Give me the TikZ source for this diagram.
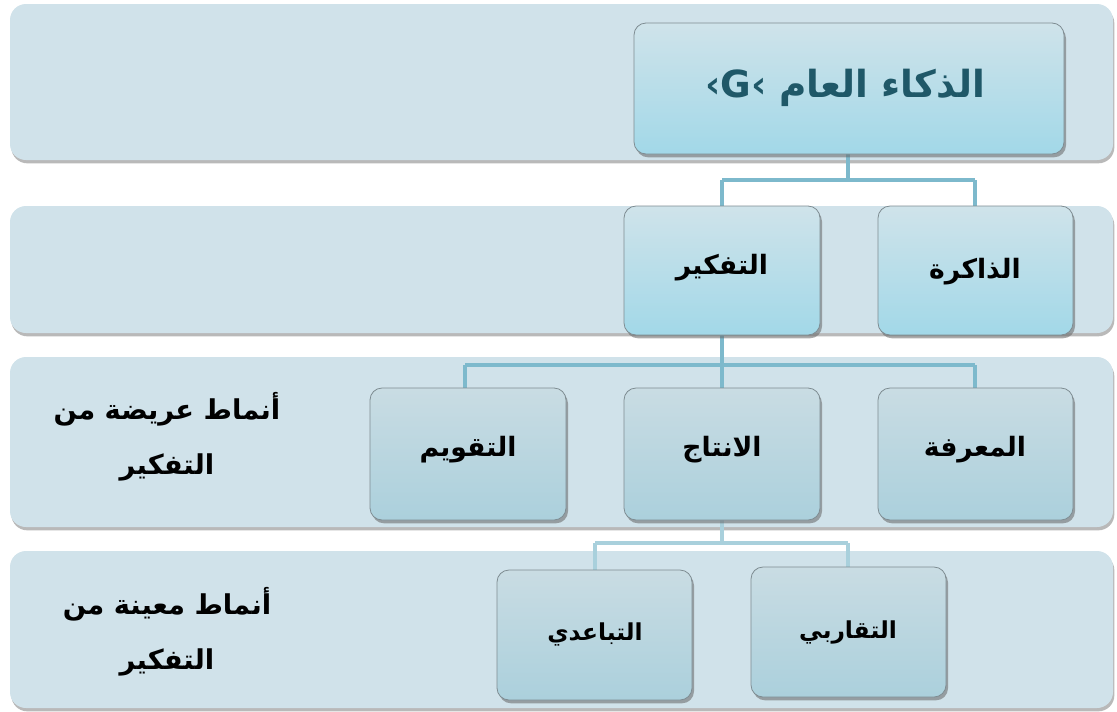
\documentclass[tikz,border=0pt]{standalone}
\usepackage{fontspec}
\TeXXeTstate=1
\newfontfamily\arabicfont[Script=Arabic]{DejaVu Sans}
\usetikzlibrary{shadows}
\definecolor{bandfill}{HTML}{D0E2EA}
\definecolor{boxtop}{HTML}{CFE3EA}
\definecolor{boxbot}{HTML}{A2D8E8}
\definecolor{lboxtop}{HTML}{C9DCE3}
\definecolor{lboxbot}{HTML}{ABD0DC}
\definecolor{linkc}{HTML}{7DB9CC}
\definecolor{linkl}{HTML}{A9D0DC}
\definecolor{gtext}{HTML}{1F5868}
\definecolor{boxline}{HTML}{7E8C92}
\tikzset{
  band/.style={fill=bandfill, rounded corners=12pt, drop shadow={shadow xshift=1pt, shadow yshift=-2.5pt, fill=black!55, opacity=0.5}},
  topbox/.style={draw=boxline, line width=0.6pt, rounded corners=9pt, top color=boxtop, bottom color=boxbot,
    drop shadow={shadow xshift=1.5pt, shadow yshift=-2.5pt, fill=black!60, opacity=0.55}},
  lowbox/.style={draw=boxline, line width=0.6pt, rounded corners=9pt, top color=lboxtop, bottom color=lboxbot,
    drop shadow={shadow xshift=1.5pt, shadow yshift=-2.5pt, fill=black!60, opacity=0.55}},
  link/.style={draw=linkc, line width=3pt},
  linklight/.style={draw=linkl, line width=2.4pt},
  lab/.style={font=\arabicfont\bfseries\fontsize{20}{24}\selectfont, text=black},
  sidelab/.style={font=\arabicfont\bfseries\fontsize{20.5}{41}\selectfont, text=black, align=center}
}
\begin{document}
\begin{tikzpicture}[x=0.75pt,y=-0.75pt]
\useasboundingbox (0,0) rectangle (1117,711);
% bands
\path[band] (10,4) rectangle (1113,160);
\path[band] (10,206) rectangle (1113,333);
\path[band] (10,357) rectangle (1113,527);
\path[band] (10,551) rectangle (1113,708);
% connector coordinates
\coordinate (j1) at (848,180);
\coordinate (j1l) at (722,180);
\coordinate (j1r) at (975,180);
\coordinate (j2) at (722,365);
\coordinate (j2l) at (465,365);
\coordinate (j2r) at (975,365);
\coordinate (j3) at (722,543);
\coordinate (j3l) at (595,543);
\coordinate (j3r) at (848,543);
% connectors (drawn behind boxes)
\draw[link] (848,150) -- (j1);
\draw[link] (j1l) -- (j1r);
\draw[link] (j1l) -- (722,210);
\draw[link] (j1r) -- (975,210);
\draw[link] (722,330) -- (j2);
\draw[link] (j2l) -- (j2r);
\draw[link] (j2l) -- (465,392);
\draw[link] (j2) -- (722,392);
\draw[link] (j2r) -- (975,392);
\draw[linklight] (722,515) -- (j3);
\draw[linklight] (j3l) -- (j3r);
\draw[linklight] (j3l) -- (595,574);
\draw[linklight] (j3r) -- (848,571);
% boxes
\path[topbox] (634,23) rectangle (1064,154);
\node (g) at (845,88) {\arabicfont\bfseries\fontsize{28}{32}\selectfont\color{gtext}\beginR الذكاء العام \beginL‹G‹\endL\endR};
\path[topbox] (878,206) rectangle (1073,335);
\node[lab] (mem) at (975,272) {\beginR الذاكرة\endR};
\path[topbox] (624,206) rectangle (820,335);
\node[lab] (think) at (722,268) {\beginR التفكير\endR};
\path[lowbox] (878,388) rectangle (1073,520);
\node[lab] (know) at (975,450) {\beginR المعرفة\endR};
\path[lowbox] (624,388) rectangle (820,520);
\node[lab] (prod) at (722,450) {\beginR الانتاج\endR};
\path[lowbox] (370,388) rectangle (566,520);
\node[lab] (eval) at (468,450) {\beginR التقويم\endR};
\path[lowbox] (751,567) rectangle (946,697);
\node[lab, font=\arabicfont\bfseries\fontsize{17.5}{20}\selectfont] (conv) at (848,632) {\beginR التقاربي\endR};
\path[lowbox] (497,570) rectangle (692,700);
\node[lab, font=\arabicfont\bfseries\fontsize{17.5}{20}\selectfont] (div) at (595,634) {\beginR التباعدي\endR};
% side labels
\node[sidelab] (broad) at (167,437) {\beginR أنماط عريضة من\endR\\\beginR التفكير\endR};
\node[sidelab] (spec) at (167,632) {\beginR أنماط معينة من\endR\\\beginR التفكير\endR};
\end{tikzpicture}
\end{document}
